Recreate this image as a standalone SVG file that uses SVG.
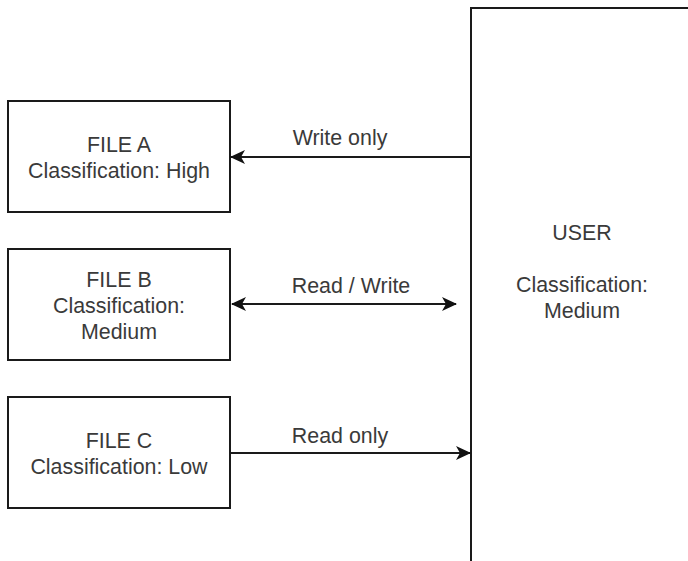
<svg xmlns="http://www.w3.org/2000/svg" width="688" height="561" viewBox="0 0 688 561">
  <style>
    .box { fill: #ffffff; stroke: #1a1a1a; stroke-width: 2; }
    .lbl { font-family: "Liberation Sans", Arial, Helvetica, sans-serif; font-size: 21.4px; fill: #3a3a3a; text-anchor: middle; }
    .edge { fill: none; stroke: #1a1a1a; stroke-width: 2; }
  </style>
  <defs>
    <marker id="arrowEnd" viewBox="0 0 15 14" refX="14" refY="7" markerWidth="15" markerHeight="14" markerUnits="userSpaceOnUse" orient="auto">
      <path d="M0,0 L15,7 L0,14 L4,7 Z" fill="#111111"/>
    </marker>
    <marker id="arrowStart" viewBox="0 0 15 14" refX="1" refY="7" markerWidth="15" markerHeight="14" markerUnits="userSpaceOnUse" orient="auto">
      <path d="M15,0 L0,7 L15,14 L11,7 Z" fill="#111111"/>
    </marker>
  </defs>
  <rect width="688" height="561" fill="#ffffff"/>

  <g id="file-a">
    <rect class="box" x="8" y="101" width="222" height="111"/>
    <text class="lbl" x="119" y="151.5">FILE A</text>
    <text class="lbl" x="119" y="177.5">Classification: High</text>
  </g>

  <g id="file-b">
    <rect class="box" x="8" y="249" width="222" height="111"/>
    <text class="lbl" x="119" y="286.5">FILE B</text>
    <text class="lbl" x="119" y="312.5">Classification:</text>
    <text class="lbl" x="119" y="338.5">Medium</text>
  </g>

  <g id="file-c">
    <rect class="box" x="8" y="397" width="222" height="111"/>
    <text class="lbl" x="119" y="447.5">FILE C</text>
    <text class="lbl" x="119" y="473.5">Classification: Low</text>
  </g>

  <g id="user">
    <rect class="box" x="471" y="8" width="240" height="580"/>
    <text class="lbl" x="582" y="240">USER</text>
    <text class="lbl" x="582" y="292">Classification:</text>
    <text class="lbl" x="582" y="318">Medium</text>
  </g>

  <g id="connectors">
    <line class="edge" x1="470" y1="157" x2="231" y2="157" marker-end="url(#arrowEnd)"/>
    <text class="lbl" x="340" y="145">Write only</text>

    <line class="edge" x1="232" y1="304" x2="456" y2="304" marker-start="url(#arrowStart)" marker-end="url(#arrowEnd)"/>
    <text class="lbl" x="351" y="293">Read / Write</text>

    <line class="edge" x1="230" y1="453" x2="470" y2="453" marker-end="url(#arrowEnd)"/>
    <text class="lbl" x="340" y="443">Read only</text>
  </g>
</svg>
